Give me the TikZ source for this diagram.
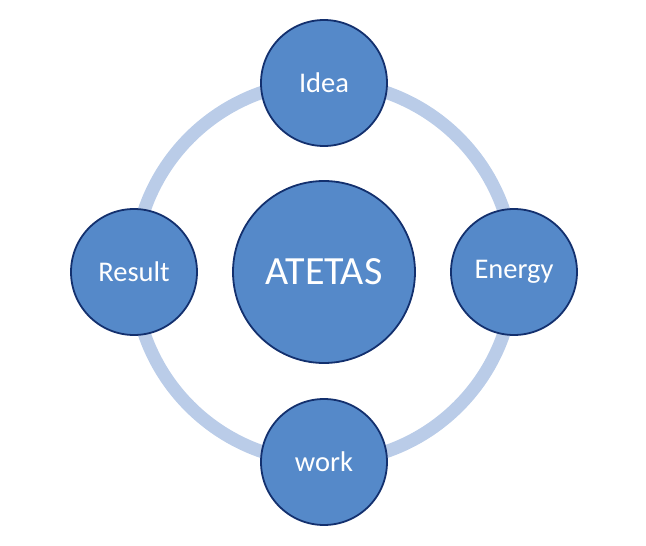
\documentclass[tikz,border=0pt]{standalone}
\usepackage{fontspec}
\setmainfont{Carlito}
\definecolor{fillblue}{HTML}{5589C9}
\definecolor{edgeblue}{HTML}{13306E}
\definecolor{ringblue}{HTML}{BACCE8}
\begin{document}
\begin{tikzpicture}[x=1pt,y=-1pt,
  sat/.style={circle,draw=edgeblue,line width=1.8pt,fill=fillblue,minimum size=126pt,inner sep=0pt,text=white,font=\fontsize{28.5}{31}\selectfont},
  hub/.style={circle,draw=edgeblue,line width=1.8pt,fill=fillblue,minimum size=182pt,inner sep=0pt,text=white,font=\fontsize{40}{44}\selectfont}]
\useasboundingbox (0,0) rectangle (646,546);
\coordinate (c) at (324,272);
\draw[ringblue,line width=13pt] (c) circle[radius=190];
\node[hub] (hub) at (c) {ATETAS};
\node[sat] (idea) at (324,83) {Idea};
\node[sat] (energy) at (514,272) {Energy};
\node[sat] (work) at (324,462) {work};
\node[sat] (result) at (134,272) {Result};
\end{tikzpicture}
\end{document}
